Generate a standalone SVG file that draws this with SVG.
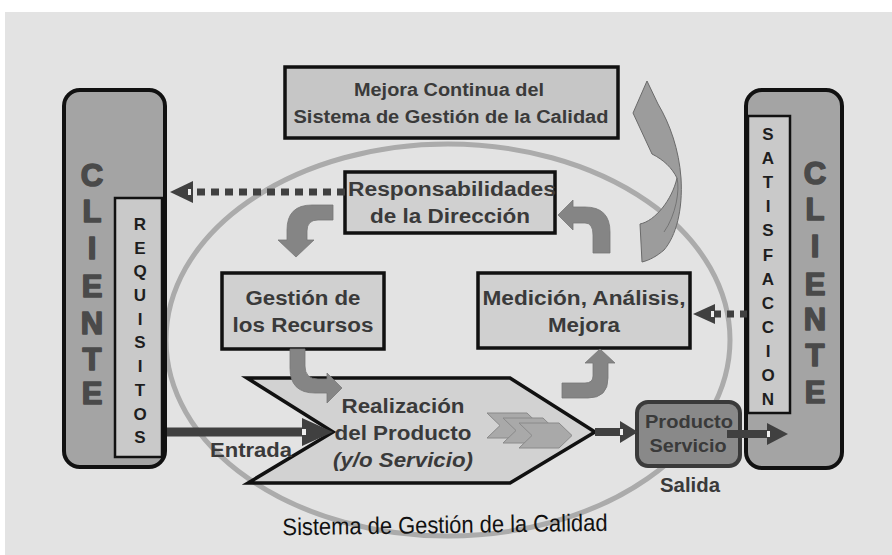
<svg xmlns="http://www.w3.org/2000/svg" width="892" height="555" viewBox="0 0 892 555">
<style>
.t{font-family:"Liberation Sans",Arial,sans-serif;font-weight:bold;fill:#3a3a3a;text-anchor:middle}
.box{fill:#d0d0d0;stroke:#111;stroke-width:3.5}
.big{font-family:"Liberation Sans",Arial,sans-serif;font-weight:bold;font-size:31px;fill:#4a4a4a;stroke:#4a4a4a;stroke-width:1.6;stroke-linejoin:round;text-anchor:middle}
.sm{font-family:"Liberation Sans",Arial,sans-serif;font-weight:bold;font-size:17px;fill:#1e1e1e;text-anchor:middle}
.curv{fill:#858585;stroke:#777;stroke-width:0.8}
.line{stroke:#404040;fill:none}
.head{fill:#404040}
.notch{fill:#eeeeee}
</style>
<rect x="0" y="0" width="892" height="555" fill="#ffffff"/>
<rect x="5" y="12" width="887" height="543" fill="#e3e3e3"/>

<ellipse id="sistema-ellipse" cx="448" cy="340" rx="282" ry="196" fill="none" stroke="#ababab" stroke-width="5"/>

<g id="cliente-izq">
  <rect x="64" y="90" width="101" height="377" rx="16" fill="#a4a4a4" stroke="#111" stroke-width="4"/>
  <g class="big">
    <text x="92" y="186">C</text><text x="92" y="222">L</text><text x="92" y="259">I</text>
    <text x="92" y="297">E</text><text x="92" y="334">N</text><text x="92" y="370">T</text><text x="92" y="404">E</text>
  </g>
</g>
<g id="requisitos">
  <rect x="115" y="198" width="47" height="259" fill="#c9c9c9" stroke="#111" stroke-width="2.5"/>
  <g class="sm">
    <text x="140" y="230">R</text><text x="140" y="254">E</text><text x="140" y="277">Q</text>
    <text x="140" y="301">U</text><text x="140" y="325">I</text><text x="140" y="348">S</text>
    <text x="140" y="372">I</text><text x="140" y="396">T</text><text x="140" y="420">O</text><text x="140" y="443">S</text>
  </g>
</g>

<g id="cliente-der">
  <rect x="746" y="90" width="96" height="378" rx="16" fill="#a4a4a4" stroke="#111" stroke-width="4"/>
  <g class="big">
    <text x="815" y="184">C</text><text x="815" y="220">L</text><text x="815" y="257">I</text>
    <text x="815" y="295">E</text><text x="815" y="330">N</text><text x="815" y="366">T</text><text x="815" y="403">E</text>
  </g>
</g>
<g id="satisfaccion">
  <rect x="748" y="116" width="42" height="297" fill="#c9c9c9" stroke="#111" stroke-width="2.5"/>
  <g class="sm">
    <text x="768" y="140">S</text><text x="768" y="164">A</text><text x="768" y="188">T</text>
    <text x="768" y="212">I</text><text x="768" y="236">S</text><text x="768" y="261">F</text>
    <text x="768" y="285">A</text><text x="768" y="309">C</text><text x="768" y="333">C</text>
    <text x="768" y="357">I</text><text x="768" y="381">O</text><text x="768" y="405">N</text>
  </g>
</g>

<g id="mejora-continua">
  <rect x="285" y="67" width="333" height="71" fill="#c6c6c6" stroke="#111" stroke-width="3.5"/>
  <text class="t" x="449" y="96" font-size="18" textLength="190" lengthAdjust="spacingAndGlyphs" fill="#444">Mejora Continua del</text>
  <text class="t" x="451" y="123" font-size="18" textLength="315" lengthAdjust="spacingAndGlyphs" fill="#444">Sistema de Gestión de la Calidad</text>
</g>

<g id="responsabilidades">
  <rect class="box" x="345" y="172" width="210" height="61"/>
  <text class="t" x="452" y="196" font-size="20" textLength="208" lengthAdjust="spacingAndGlyphs">Responsabilidades</text>
  <text class="t" x="450" y="223" font-size="20" textLength="160" lengthAdjust="spacingAndGlyphs">de la Dirección</text>
</g>

<g id="gestion-recursos">
  <rect class="box" x="222" y="273" width="162" height="76"/>
  <text class="t" x="303" y="305" font-size="20" textLength="115" lengthAdjust="spacingAndGlyphs">Gestión de</text>
  <text class="t" x="303" y="332" font-size="20" textLength="141" lengthAdjust="spacingAndGlyphs">los Recursos</text>
</g>

<g id="medicion">
  <rect class="box" x="478" y="273" width="212" height="75"/>
  <text class="t" x="584" y="305" font-size="20" textLength="203" lengthAdjust="spacingAndGlyphs">Medición, Análisis,</text>
  <text class="t" x="584" y="332" font-size="20" textLength="72" lengthAdjust="spacingAndGlyphs">Mejora</text>
</g>

<g id="realizacion">
  <polygon points="247,378 510,378 595,432 510,483 248,483 333,432" fill="#d2d2d2" stroke="#111" stroke-width="3.5" stroke-linejoin="miter"/>
  <g fill="#a9a9a9" stroke="#8a8a8a" stroke-width="1">
    <polygon points="487,413 527,413 540,425.5 527,438 487,438 500,425.5"/>
    <polygon points="503,418 543,418 556,430.5 543,443 503,443 516,430.5"/>
    <polygon points="519,423 559,423 572,435.5 559,448 519,448 532,435.5"/>
  </g>
  <text class="t" x="403" y="413" font-size="20" textLength="123" lengthAdjust="spacingAndGlyphs">Realización</text>
  <text class="t" x="403" y="440" font-size="20" textLength="137" lengthAdjust="spacingAndGlyphs">del Producto</text>
  <text class="t" x="403" y="467" font-size="20" font-style="italic" textLength="140" lengthAdjust="spacingAndGlyphs">(y/o Servicio)</text>
</g>

<g id="producto-servicio">
  <rect x="637" y="402" width="103" height="64" rx="11" fill="#898989" stroke="#3a3a3a" stroke-width="4"/>
  <text class="t" x="689" y="428" font-size="18" fill="#ffffff" textLength="88" lengthAdjust="spacingAndGlyphs">Producto</text>
  <text class="t" x="688" y="452" font-size="18" fill="#ffffff" textLength="77" lengthAdjust="spacingAndGlyphs">Servicio</text>
</g>

<g id="connectors">
  <path class="line" d="M345 192 H192" stroke-width="7" stroke-dasharray="8 6"/>
  <polygon class="head" points="170,192 193,181 193,203"/>
  <rect class="notch" x="188" y="189" width="3" height="6"/>
  <path class="line" d="M747 314 H714" stroke-width="7" stroke-dasharray="7 6"/>
  <polygon class="head" points="693,314 715,304 715,324"/>
  <rect class="notch" x="711" y="311" width="3" height="6"/>
  <path class="line" d="M167 432 H303" stroke-width="9"/>
  <polygon class="head" points="333,432 302,418 302,446"/>
  <rect class="notch" x="302" y="429" width="4" height="6"/>
  <path class="line" d="M595 432 H621" stroke-width="8"/>
  <polygon class="head" points="638,432 620,421 620,443"/>
  <rect class="notch" x="620" y="429" width="3" height="6"/>
  <path class="line" d="M727 434 H768" stroke-width="8"/>
  <polygon class="head" points="788,434 767,423 767,445"/>
  <rect class="notch" x="767" y="431" width="3" height="6"/>
  <path class="curv" d="M333 205 H312 Q287 205 287 230 V240 H278 L296 257 L314 240 H307 V231 Q307 220 318 220 H333 Z"/>
  <path class="curv" d="M610 253 V232 Q610 207 585 207 H573 V200 L558 215 L573 230 V223 H585 Q593 223 593 235 V253 Z"/>
  <path class="curv" d="M290 349 V368 Q290 393 315 393 H327 V403 L342 388 L327 373 V379 H318 Q305 379 305 366 V349 Z"/>
  <path class="curv" d="M562 398 H588 Q608 398 608 378 V363 H615 L600 349 L585 363 H593 V376 Q593 383 585 383 H562 Z"/>
  <path d="M642 262 L640 224 C655 221 672 200 677 178 C672 168 664 160 652 154 L633 113 L647 81 L658 104 C670 124 679 150 681 178 C683 210 676 236 664 250 C657 256 650 260 642 262 Z" fill="#9c9c9c" stroke="#6a6a6a" stroke-width="1"/>
  <path d="M677 178 C680 190 676 215 664 232" fill="none" stroke="#6a6a6a" stroke-width="0.8"/>
</g>

<g id="labels">
  <text class="t" x="251" y="457" font-size="20" fill="#4a4a4a" textLength="82" lengthAdjust="spacingAndGlyphs">Entrada</text>
  <text class="t" x="690" y="492" font-size="20" fill="#4a4a4a" textLength="60" lengthAdjust="spacingAndGlyphs">Salida</text>
  <text x="445" y="533" font-family="'Liberation Sans Narrow','Liberation Sans',Arial,sans-serif" font-size="24" fill="#111" text-anchor="middle" textLength="325" lengthAdjust="spacingAndGlyphs" transform="rotate(-0.8 445 528)">Sistema de Gestión de la Calidad</text>
</g>
</svg>
